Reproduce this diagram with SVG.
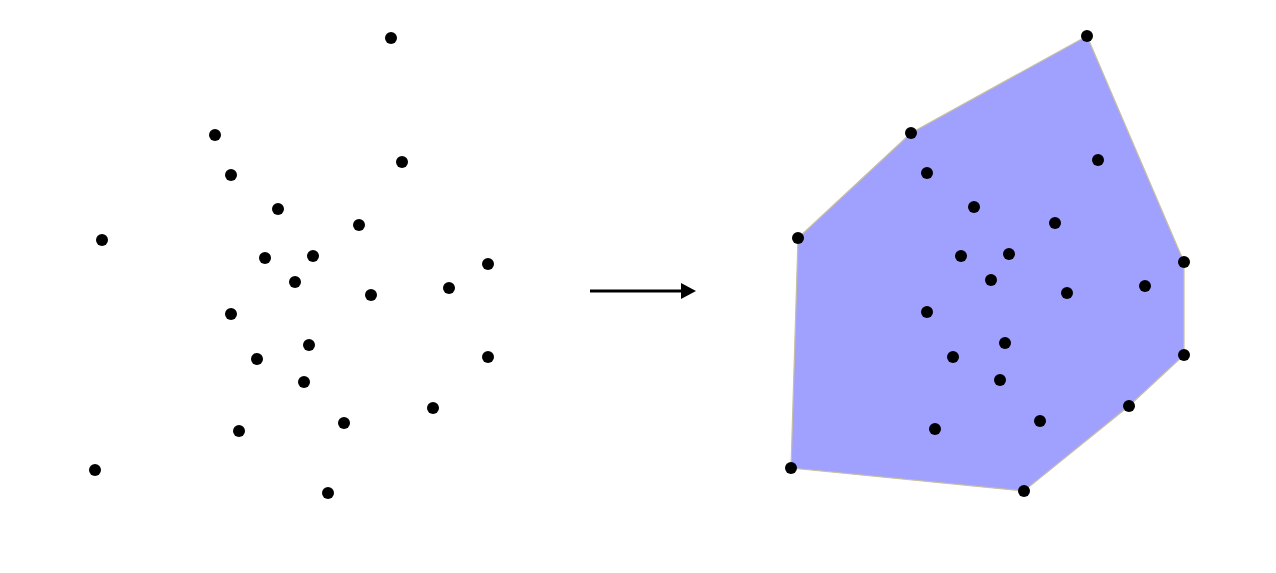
<svg xmlns="http://www.w3.org/2000/svg" width="1276" height="573" viewBox="0 0 1276 573">
<style>
.pt{fill:#000}
.hull{fill:#a0a0ff;stroke:#c8c0a0;stroke-width:1.2}
.arrow{stroke:#000;stroke-width:3;fill:none}
</style>
<defs>
<marker id="ah" markerWidth="16" markerHeight="16" refX="1" refY="8" orient="auto" markerUnits="userSpaceOnUse">
<path d="M0,0 L15,8 L0,16 Z" fill="#000"/>
</marker>
</defs>
<rect width="1276" height="573" fill="#fff"/>
<g id="left-points">
<circle class="pt" cx="391" cy="38" r="6"/>
<circle class="pt" cx="215" cy="135" r="6"/>
<circle class="pt" cx="231" cy="175" r="6"/>
<circle class="pt" cx="402" cy="162" r="6"/>
<circle class="pt" cx="278" cy="209" r="6"/>
<circle class="pt" cx="359" cy="225" r="6"/>
<circle class="pt" cx="102" cy="240" r="6"/>
<circle class="pt" cx="265" cy="258" r="6"/>
<circle class="pt" cx="313" cy="256" r="6"/>
<circle class="pt" cx="488" cy="264" r="6"/>
<circle class="pt" cx="295" cy="282" r="6"/>
<circle class="pt" cx="371" cy="295" r="6"/>
<circle class="pt" cx="449" cy="288" r="6"/>
<circle class="pt" cx="231" cy="314" r="6"/>
<circle class="pt" cx="309" cy="345" r="6"/>
<circle class="pt" cx="257" cy="359" r="6"/>
<circle class="pt" cx="488" cy="357" r="6"/>
<circle class="pt" cx="304" cy="382" r="6"/>
<circle class="pt" cx="433" cy="408" r="6"/>
<circle class="pt" cx="344" cy="423" r="6"/>
<circle class="pt" cx="239" cy="431" r="6"/>
<circle class="pt" cx="95" cy="470" r="6"/>
<circle class="pt" cx="328" cy="493" r="6"/>
</g>
<g id="connectors">
<line class="arrow" x1="590" y1="291" x2="682" y2="291" marker-end="url(#ah)"/>
</g>
<g id="hull">
<polygon class="hull" points="1087,36 1184,262 1184,355 1129,406 1024,491 791,468 798,238 911,133"/>
</g>
<g id="right-points">
<circle class="pt" cx="1087" cy="36" r="6"/>
<circle class="pt" cx="911" cy="133" r="6"/>
<circle class="pt" cx="927" cy="173" r="6"/>
<circle class="pt" cx="1098" cy="160" r="6"/>
<circle class="pt" cx="974" cy="207" r="6"/>
<circle class="pt" cx="1055" cy="223" r="6"/>
<circle class="pt" cx="798" cy="238" r="6"/>
<circle class="pt" cx="961" cy="256" r="6"/>
<circle class="pt" cx="1009" cy="254" r="6"/>
<circle class="pt" cx="1184" cy="262" r="6"/>
<circle class="pt" cx="991" cy="280" r="6"/>
<circle class="pt" cx="1067" cy="293" r="6"/>
<circle class="pt" cx="1145" cy="286" r="6"/>
<circle class="pt" cx="927" cy="312" r="6"/>
<circle class="pt" cx="1005" cy="343" r="6"/>
<circle class="pt" cx="953" cy="357" r="6"/>
<circle class="pt" cx="1184" cy="355" r="6"/>
<circle class="pt" cx="1000" cy="380" r="6"/>
<circle class="pt" cx="1129" cy="406" r="6"/>
<circle class="pt" cx="1040" cy="421" r="6"/>
<circle class="pt" cx="935" cy="429" r="6"/>
<circle class="pt" cx="791" cy="468" r="6"/>
<circle class="pt" cx="1024" cy="491" r="6"/>
</g>
</svg>
